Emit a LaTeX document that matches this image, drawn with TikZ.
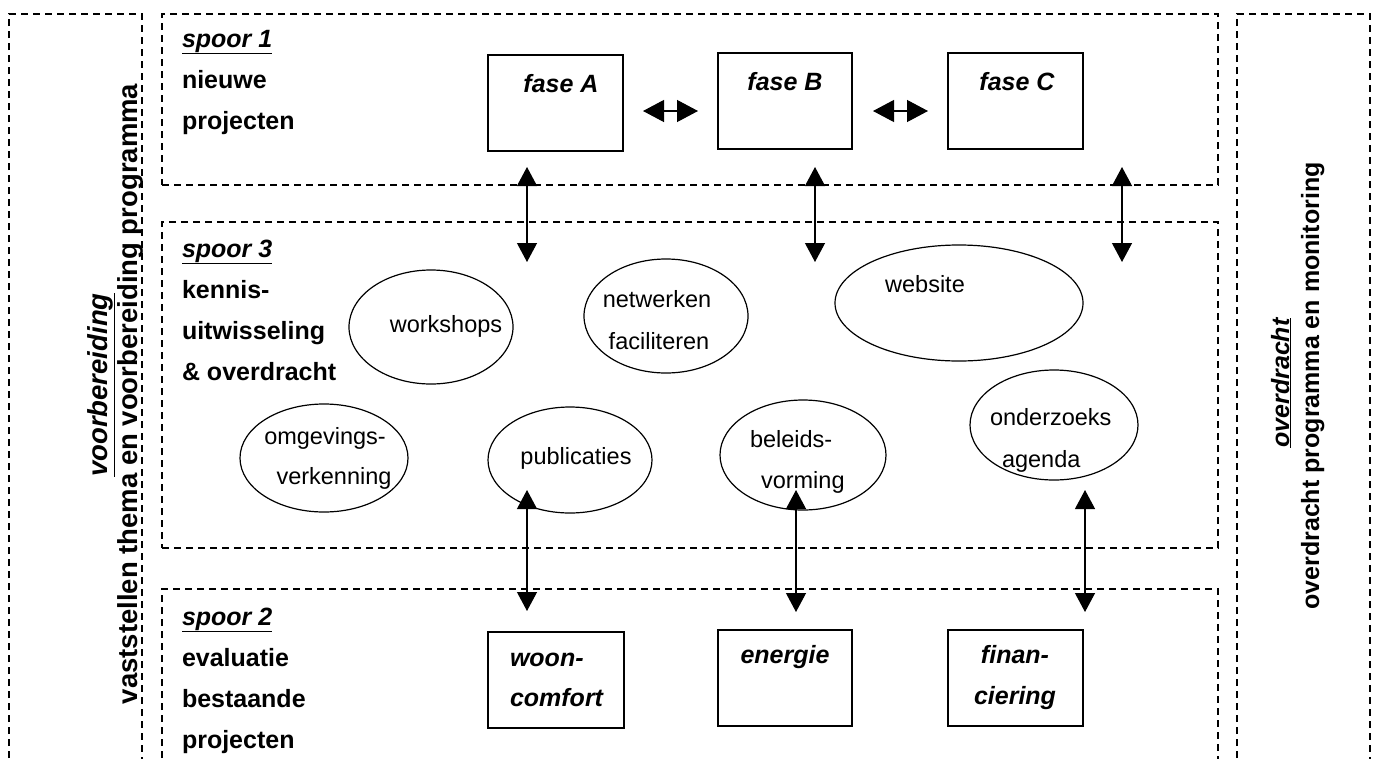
\documentclass[tikz,border=0pt]{standalone}
\usepackage{fontspec}
\setmainfont{Liberation Sans}
\usetikzlibrary{arrows.meta,shapes.geometric}
\begin{document}
\begin{tikzpicture}[x=1pt,y=-1pt,
  every node/.style={inner sep=0pt,outer sep=0pt,font=\fontsize{25}{41}\selectfont},
  zone/.style={draw,dash pattern=on 7pt off 5pt,line width=1.2pt},
  fasebox/.style={draw,line width=1.2pt},
  bubble/.style={draw,ellipse,line width=1.2pt},
  lbl/.style={anchor=base west,font=\fontsize{25}{41}\selectfont\bfseries},
  ttl/.style={anchor=base west,font=\fontsize{25}{41}\selectfont\bfseries\itshape},
  btxt/.style={anchor=base,font=\fontsize{23.5}{41}\selectfont},
  ftxt/.style={anchor=base,font=\fontsize{25}{41}\selectfont\bfseries\itshape},
  vtxt/.style={rotate=90,anchor=base,font=\fontsize{27.5}{41}\selectfont\bfseries},
  rtxt/.style={rotate=90,anchor=base,font=\fontsize{25}{41}\selectfont\bfseries},
  link/.style={line width=1.2pt,{Triangle[width=20pt,length=19pt]}-{Triangle[width=20pt,length=19pt]}},
  hlink/.style={line width=1.2pt,{Triangle[width=22pt,length=21pt]}-{Triangle[width=22pt,length=21pt]}}
]
\useasboundingbox (0,0) rectangle (1378,758);
% zones
\coordinate (l1) at (9,770); \coordinate (l2) at (9,14); \coordinate (l3) at (142,14); \coordinate (l4) at (142,770);
\draw[zone] (l1) -- (l2) -- (l3) -- (l4);
\coordinate (r1) at (1237,770); \coordinate (r2) at (1237,14); \coordinate (r3) at (1370,14); \coordinate (r4) at (1370,770);
\draw[zone] (r1) -- (r2) -- (r3) -- (r4);
\node[zone,minimum width=1056pt,minimum height=171pt,anchor=north west] (s1) at (162,14) {};
\node[zone,minimum width=1056pt,minimum height=326pt,anchor=north west] (s3) at (162,222) {};
\coordinate (m1) at (162,770); \coordinate (m2) at (162,589); \coordinate (m3) at (1218,589); \coordinate (m4) at (1218,770);
\draw[zone] (m1) -- (m2) -- (m3) -- (m4);

% vertical texts
\node[vtxt,font=\fontsize{27.5}{41}\selectfont\bfseries\itshape] (vb) at (107,385) {\underline{voorbereiding}};
\node[vtxt] (vbt) at (137,394) {vaststellen thema en voorbereiding programma};
\node[rtxt,font=\fontsize{25}{41}\selectfont\bfseries\itshape] (od) at (1289,383) {\underline{overdracht}};
\node[rtxt] (odt) at (1319,386) {overdracht programma en monitoring};

% spoor labels
\node[ttl] (t1) at (182,47) {\underline{spoor 1}};
\node[lbl] (t1a) at (182,88) {nieuwe};
\node[lbl] (t1b) at (182,129) {projecten};
\node[ttl] (t3) at (182,257) {\underline{spoor 3}};
\node[lbl] (t3a) at (182,298) {kennis-};
\node[lbl] (t3b) at (182,339) {uitwisseling};
\node[lbl] (t3c) at (182,380) {\& overdracht};
\node[ttl] (t2) at (182,625) {\underline{spoor 2}};
\node[lbl] (t2a) at (182,666) {evaluatie};
\node[lbl] (t2b) at (182,707) {bestaande};
\node[lbl] (t2c) at (182,748) {projecten};

% phase boxes
\node[fasebox,minimum width=135pt,minimum height=96pt] (fa) at (555.5,103) {};
\node[fasebox,minimum width=134pt,minimum height=96pt] (fb) at (785,101) {};
\node[fasebox,minimum width=135pt,minimum height=96pt] (fc) at (1015.5,101) {};
\node[ftxt] (fat) at (561,92) {fase A};
\node[ftxt] (fbt) at (785,90) {fase B};
\node[ftxt] (fct) at (1017,90) {fase C};

% horizontal arrows
\coordinate (h1a) at (643,111); \coordinate (h1b) at (698,111);
\coordinate (h2a) at (873,111); \coordinate (h2b) at (928,111);
\draw[hlink] (h1a) -- (h1b);
\draw[hlink] (h2a) -- (h2b);

% vertical arrows top
\coordinate (a1) at (527,167); \coordinate (a1b) at (527,262);
\coordinate (a2) at (815,167); \coordinate (a2b) at (815,262);
\coordinate (a3) at (1122,167); \coordinate (a3b) at (1122,262);
\draw[link] (a1) -- (a1b);
\draw[link] (a2) -- (a2b);
\draw[link] (a3) -- (a3b);

% ellipses
\node[bubble,minimum width=164pt,minimum height=114pt] (e1) at (431,327) {};
\node[bubble,minimum width=164pt,minimum height=114pt] (e2) at (666,316) {};
\node[bubble,minimum width=248pt,minimum height=116pt] (e3) at (959,303) {};
\node[bubble,minimum width=168pt,minimum height=108pt] (e4) at (324,458) {};
\node[bubble,minimum width=164pt,minimum height=106pt] (e5) at (570,460) {};
\node[bubble,minimum width=166pt,minimum height=110pt] (e6) at (803,455) {};
\node[bubble,minimum width=168pt,minimum height=110pt] (e7) at (1054,425) {};

\node[btxt] (x1) at (446,332) {workshops};
\node[btxt] (x2) at (657,307) {netwerken};
\node[btxt] (x3) at (659,349) {faciliteren};
\node[btxt] (x4) at (925,292) {website};
\node[btxt] (x5) at (325,444) {omgevings-};
\node[btxt] (x6) at (334,484) {verkenning};
\node[btxt] (x7) at (576,464) {publicaties};
\node[btxt,anchor=base west] (x8) at (750,447) {beleids-};
\node[btxt,anchor=base west] (x9) at (761,488) {vorming};
\node[btxt,anchor=base west] (x10) at (990,425) {onderzoeks};
\node[btxt,anchor=base west] (x11) at (1002,467) {agenda};

% bottom arrows
\coordinate (b1) at (527,490); \coordinate (b1b) at (527,611);
\coordinate (b2) at (796,490); \coordinate (b2b) at (796,612);
\coordinate (b3) at (1085,490); \coordinate (b3b) at (1085,612);
\draw[link] (b1) -- (b1b);
\draw[link] (b2) -- (b2b);
\draw[link] (b3) -- (b3b);

% bottom boxes
\node[fasebox,minimum width=136pt,minimum height=96pt] (wc) at (556,680) {};
\node[fasebox,minimum width=134pt,minimum height=96pt] (en) at (785,678) {};
\node[fasebox,minimum width=135pt,minimum height=96pt] (fi) at (1015.5,678) {};
\node[ftxt,anchor=base west] (wct1) at (510,666) {woon-};
\node[ftxt,anchor=base west] (wct2) at (510,706) {comfort};
\node[ftxt] (ent) at (785,663) {energie};
\node[ftxt] (fit1) at (1015,663) {finan-};
\node[ftxt] (fit2) at (1015,704) {ciering};
\end{tikzpicture}
\end{document}
